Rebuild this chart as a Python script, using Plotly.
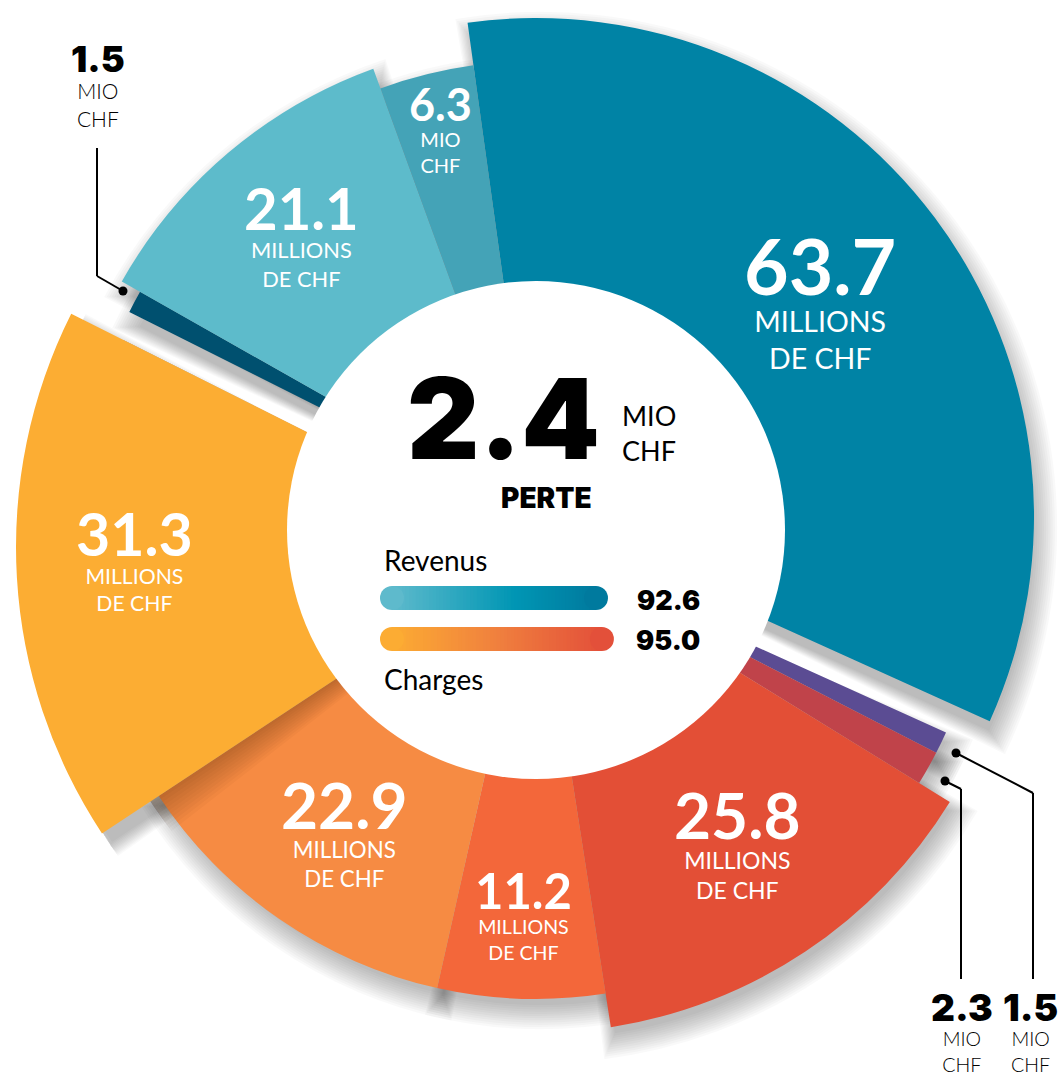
import numpy as np
import plotly.graph_objects as go

W, H = 1058, 1079

# ---------------- data ----------------
slice_values = [63.7, 1.5, 2.3, 25.8, 11.2, 22.9, 31.3, 1.5, 21.1, 6.3]
slice_groups = ["Revenus", "Charges", "Charges", "Charges", "Charges",
                "Charges", "Charges", "Revenus", "Revenus", "Revenus"]
slice_units = ["MILLIONS|DE CHF", "MIO|CHF", "MIO|CHF", "MILLIONS|DE CHF",
               "MILLIONS|DE CHF", "MILLIONS|DE CHF", "MILLIONS|DE CHF",
               "MIO|CHF", "MILLIONS|DE CHF", "MIO|CHF"]
group_names = ["Revenus", "Charges"]
group_totals = [92.6, 95.0]
result_value = 2.4
result_unit = "MIO|CHF"
result_label = "PERTE"

# ---------------- style ----------------
slice_colors = ["#0083A5", "#5B4C93", "#C0434A", "#E34F36", "#F3673A",
                "#F68B43", "#FCAD33", "#00506F", "#5DBBCB", "#44A3B7"]
outer_radius = [498, 450, 450, 486, 452, 452, 520, 455, 476, 455]
raised_slice = 6          # slice drawn on top, casting a shadow on its neighbour
raised_shadow_radius = 462
start_angle = -7.9
group_center = {"Revenus": (536, 516), "Charges": (536, 547)}
shadow_offset = (5, 12)
inner_circle = (536, 530, 249)
# label style: (x_center, last_baseline_px, number_size, unit_size, color)
label_style = [
    (820, 370, 77, 28.5, "white"),
    (1030, 1073, 37, 19.6, "black"),
    (962, 1073, 37, 19.6, "black"),
    (737, 900, 64, 23, "white"),
    (523, 961, 49, 19.6, "white"),
    (344, 888, 64, 22.3, "white"),
    (134, 612, 59, 21.2, "white"),
    (98, 127, 36, 21, "black"),
    (301, 288, 58, 21.8, "white"),
    (440, 174, 45, 20, "white"),
]
grad_stops = {
    "Revenus": [(0.0, (94, 186, 204)), (0.6, (0, 150, 180)), (1.0, (0, 122, 158))],
    "Charges": [(0.0, (252, 172, 51)), (0.5, (240, 128, 62)), (1.0, (227, 80, 58))],
}

FONT = "Lato"
HEAVY = "Inter"


def X(px):
    return px / W


def Y(py):
    return 1 - py / H


vals = np.array(slice_values)
widths = vals / vals.sum() * 360.0
ends = start_angle + np.cumsum(widths)
centers = ends - widths / 2


def polar_cfg(cx, cy):
    S = min(cx, W - cx, cy, H - cy)
    dom = dict(x=[max(0, (cx - S) / W), min(1, (cx + S) / W)],
               y=[max(0, (H - cy - S) / H), min(1, (H - cy + S) / H)])
    cfg = dict(domain=dom, bgcolor="rgba(0,0,0,0)", hole=0,
               radialaxis=dict(visible=False, range=[0, S], showgrid=False),
               angularaxis=dict(visible=False, rotation=90, direction="clockwise",
                                showgrid=False, showline=False, ticks=""))
    return cfg


fig = go.Figure()
layout_polars = {}
base = 120
pi = 1
# soft drop shadows first
for g in group_names:
    cx, cy = group_center[g]
    name = "polar" if pi == 1 else f"polar{pi}"
    layout_polars[name] = polar_cfg(cx + shadow_offset[0], cy + shadow_offset[1])
    idx = [i for i in range(len(vals)) if slice_groups[i] == g]
    for k in range(12):
        fig.add_trace(go.Barpolar(
            r=[outer_radius[i] + 2.2 * k - 6 - base for i in idx], base=base,
            theta=centers[idx], width=widths[idx] + 0.3 * k,
            marker=dict(color="rgba(0,0,0,0.024)", line=dict(width=0)),
            subplot=name, hoverinfo="skip", showlegend=False))
    pi += 1
for g in group_names:
    cx, cy = group_center[g]
    name = f"polar{pi}"
    layout_polars[name] = polar_cfg(cx, cy)
    idx = [i for i in range(len(vals)) if slice_groups[i] == g and i != raised_slice]
    fig.add_trace(go.Barpolar(
        r=[outer_radius[i] - base for i in idx], base=base,
        theta=centers[idx], width=widths[idx],
        marker=dict(color=[slice_colors[i] for i in idx], line=dict(width=0)),
        subplot=name, name=g, hoverinfo="skip", showlegend=False))
    if slice_groups[raised_slice] == g:
        i = raised_slice
        for k in range(1, 11):
            ext = 0.45 * k
            fig.add_trace(go.Barpolar(
                r=[raised_shadow_radius - base], base=base,
                theta=[centers[i] - ext / 2], width=[widths[i] + ext],
                marker=dict(color="rgba(60,20,0,0.03)", line=dict(width=0)),
                subplot=name, hoverinfo="skip", showlegend=False))
        fig.add_trace(go.Barpolar(
            r=[outer_radius[i] - base], base=base,
            theta=[centers[i]], width=[widths[i]],
            marker=dict(color=[slice_colors[i]], line=dict(width=0)),
            subplot=name, name=g, hoverinfo="skip", showlegend=False))
    pi += 1

shapes = []
# white inner circle
icx, icy, ir = inner_circle
shapes.append(dict(type="circle", xref="paper", yref="paper",
                   x0=X(icx - ir), x1=X(icx + ir), y0=Y(icy + ir), y1=Y(icy - ir),
                   fillcolor="white", line=dict(width=0), layer="above"))

# gradient total bars on a hidden cartesian axis
bar_px0, bar_px_per_unit = 380, 2.462
bar_h_px = 24
row_px = 41


def interp(stops, t):
    for (t0, c0), (t1, c1) in zip(stops[:-1], stops[1:]):
        if t <= t1:
            f = (t - t0) / (t1 - t0) if t1 > t0 else 0
            return tuple(int(round(a + (b - a) * f)) for a, b in zip(c0, c1))
    return stops[-1][1]


cap = (bar_h_px / 2) / bar_px_per_unit
hh = (bar_h_px / 2) / row_px
rows = {"Revenus": 1, "Charges": 0}
for g, tot in zip(group_names, group_totals):
    yc = rows[g]
    stops = grad_stops[g]
    x_start, x_end = cap, tot - cap
    n = 60
    edges = np.linspace(x_start, x_end, n + 1)
    step = edges[1] - edges[0]
    for j in range(n):
        t = (j + 0.5) / n
        c = interp(stops, t)
        x1 = edges[j + 1] + (0.6 * step if j < n - 1 else 0)
        shapes.append(dict(type="rect", xref="x", yref="y",
                           x0=edges[j], x1=x1,
                           y0=yc - hh, y1=yc + hh, fillcolor=f"rgb{c}",
                           line=dict(width=0), layer="above"))
    for xc, t in ((x_start, 0.0), (x_end, 1.0)):
        c = interp(stops, t)
        shapes.append(dict(type="circle", xref="x", yref="y",
                           x0=xc - cap, x1=xc + cap, y0=yc - hh, y1=yc + hh,
                           fillcolor=f"rgb{c}", line=dict(width=0), layer="above"))

# callout lines
callouts = [
    [(123, 291), (97, 276), (97, 148)],
    [(945, 781), (961, 789), (961, 979)],
    [(956, 753), (1033, 793), (1033, 979)],
]
for pts in callouts:
    for (x0, y0), (x1, y1) in zip(pts[:-1], pts[1:]):
        shapes.append(dict(type="line", xref="paper", yref="paper",
                           x0=X(x0), y0=Y(y0), x1=X(x1), y1=Y(y1),
                           line=dict(color="black", width=2), layer="above"))
    dx, dy = pts[0]
    shapes.append(dict(type="circle", xref="paper", yref="paper",
                       x0=X(dx - 4.5), x1=X(dx + 4.5), y0=Y(dy + 4.5), y1=Y(dy - 4.5),
                       fillcolor="black", line=dict(width=0), layer="above"))

ann = []


def add_text(text, px, py, size, color="black", weight=400, xanchor="center",
             yanchor="middle", family=FONT, align="center"):
    ann.append(dict(text=text, x=X(px), y=Y(py), xref="paper", yref="paper",
                    showarrow=False, xanchor=xanchor, yanchor=yanchor, align=align,
                    borderpad=0,
                    font=dict(family=family, size=size, color=color, weight=weight)))


for i, v in enumerate(slice_values):
    x, yb, vs, us, col = label_style[i]
    u1, u2 = slice_units[i].split("|")
    if col == "white":
        num = f"<span style='font-size:{vs}px;font-weight:700'>{v:.1f}</span>"
        uw = 400
    else:
        num = (f"<span style='font-size:{vs}px;font-weight:900;"
               f"font-family:{HEAVY}'>{v:.1f}</span>")
        uw = 300
    add_text(f"{num}<br>{u1}<br>{u2}", x, yb + 0.22 * us, us, col, uw,
             yanchor="bottom")

# centre block
add_text(f"{result_value:.1f}", 503, 418, 112, "black", 900, family=HEAVY)
ru1, ru2 = result_unit.split("|")
add_text(f"{ru1}<br>{ru2}", 621, 462 + 0.22 * 27, 27, "black", 400,
         xanchor="left", yanchor="bottom", align="left")
add_text(result_label, 546, 498, 28, "black", 900, family=HEAVY)
add_text(group_names[0], 383, 560, 28, "black", 400, xanchor="left")
add_text(group_names[1], 383, 679, 28, "black", 400, xanchor="left")
add_text(f"{group_totals[0]:.1f}", 668, 600, 27, "black", 900, family=HEAVY)
add_text(f"{group_totals[1]:.1f}", 668, 640, 27, "black", 900, family=HEAVY)

xaxis_w = 100 * bar_px_per_unit
yc_mid = (598 + 639) / 2
fig.update_layout(
    width=W, height=H, margin=dict(l=0, r=0, t=0, b=0),
    paper_bgcolor="white", plot_bgcolor="rgba(0,0,0,0)",
    showlegend=False,
    xaxis=dict(domain=[X(bar_px0), X(bar_px0 + xaxis_w)], range=[0, 100],
               visible=False, fixedrange=True),
    yaxis=dict(domain=[Y(yc_mid + row_px), Y(yc_mid - row_px)], range=[-0.5, 1.5],
               visible=False, fixedrange=True),
    shapes=shapes, annotations=ann,
    font=dict(family=FONT),
    **layout_polars,
)

fig.write_html("out.html", config={"displayModeBar": False},
               post_script="document.body.style.margin='0';")
